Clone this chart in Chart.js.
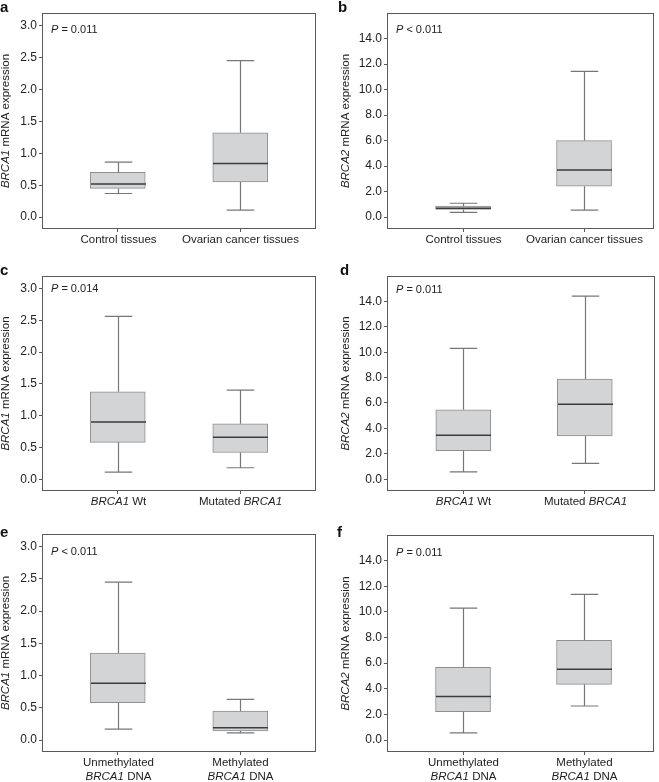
<!DOCTYPE html>
<html><head><meta charset="utf-8">
<script src="https://cdn.jsdelivr.net/npm/chart.js@4.4.1/dist/chart.umd.min.js"></script>
<style>
html,body{margin:0;padding:0;background:#fff;}
#wrap{position:relative;width:659px;height:782px;overflow:hidden;background:#fff;}
.pn{position:absolute;}
canvas{display:block;}
</style></head><body><div id="wrap"></div>
<script>
// ---------- data ----------
const panelLetters = ['a', 'b', 'c', 'd', 'e', 'f'];
const yGenes = ['BRCA1', 'BRCA2', 'BRCA1', 'BRCA2', 'BRCA1', 'BRCA2'];
const pLabels = ['*P* = 0.011', '*P* < 0.011', '*P* = 0.014', '*P* = 0.011', '*P* < 0.011', '*P* = 0.011'];
const categoriesTissue = [['Control tissues'], ['Ovarian cancer tissues']];
const categoriesMutation = [['*BRCA1* Wt'], ['Mutated *BRCA1*']];
const categoriesMethylation = [['Unmethylated', '*BRCA1* DNA'], ['Methylated', '*BRCA1* DNA']];
const panelCategories = [categoriesTissue, categoriesTissue, categoriesMutation, categoriesMutation, categoriesMethylation, categoriesMethylation];
const ticksBRCA1 = [0.0, 0.5, 1.0, 1.5, 2.0, 2.5, 3.0];
const ticksBRCA2 = [0.0, 2.0, 4.0, 6.0, 8.0, 10.0, 12.0, 14.0];
// per panel, [group 1, group 2]
const whiskerLow  = [[0.37, 0.11], [0.37, 0.55], [0.11, 0.18], [0.57, 1.25], [0.17, 0.11], [0.57, 2.66]];
const quartile1   = [[0.45, 0.55], [0.60, 2.42], [0.58, 0.42], [2.24, 3.41], [0.58, 0.14], [2.21, 4.35]];
const medians     = [[0.52, 0.84], [0.70, 3.70], [0.90, 0.66], [3.46, 5.91], [0.88, 0.19], [3.41, 5.52]];
const quartile3   = [[0.70, 1.32], [0.86, 6.00], [1.375, 0.87], [5.46, 7.88], [1.35, 0.45], [5.67, 7.79]];
const whiskerHigh = [[0.86, 2.45], [1.09, 11.42], [2.56, 1.40], [10.30, 14.42], [2.45, 0.63], [10.30, 11.37]];

// ---------- layout (page pixels) ----------
const FONT = "'Liberation Sans', Arial, Helvetica, sans-serif";
const layout = [
  {x: 0,   y: 0,   w: 330, h: 255, l: 43, t: 14, r: 315, b: 228, pY: 16, titleX: 6,  letterX: 0, letterY: 12},
  {x: 330, y: 0,   w: 329, h: 255, l: 58, t: 14, r: 323, b: 228, pY: 16, titleX: 16, letterX: 8, letterY: 12},
  {x: 0,   y: 255, w: 330, h: 255, l: 43, t: 22, r: 315, b: 235, pY: 12, titleX: 6,  letterX: 0, letterY: 20},
  {x: 330, y: 255, w: 329, h: 255, l: 58, t: 22, r: 324, b: 235, pY: 13, titleX: 16, letterX: 10, letterY: 20},
  {x: 0,   y: 510, w: 330, h: 272, l: 43, t: 25, r: 315, b: 241, pY: 17, titleX: 6,  letterX: 0, letterY: 27},
  {x: 330, y: 510, w: 329, h: 272, l: 58, t: 26, r: 323, b: 241, pY: 17, titleX: 16, letterX: 7, letterY: 27}
];

function segs(str) {
  return str.split('*').map((t, j) => ({t: t, it: j % 2 === 1})).filter(s => s.t.length);
}
function drawRich(ctx, str, x, y, align, size, color) {
  const parts = segs(str);
  const f = it => (it ? 'italic ' : '') + size + 'px ' + FONT;
  let total = 0;
  parts.forEach(s => { ctx.font = f(s.it); s.w = ctx.measureText(s.t).width; total += s.w; });
  let cx = align === 'center' ? x - total / 2 : x;
  ctx.textAlign = 'left';
  ctx.textBaseline = 'middle';
  ctx.fillStyle = color;
  parts.forEach(s => { ctx.font = f(s.it); ctx.fillText(s.t, cx, y); cx += s.w; });
}

function boxPlugin(i) {
  const L = layout[i];
  return {
    id: 'box' + i,
    afterDatasetsDraw(chart) {
      const ctx = chart.ctx, xs = chart.scales.x, ys = chart.scales.y, a = chart.chartArea;
      const meta = chart.getDatasetMeta(0);
      ctx.save();
      for (let k = 0; k < 2; k++) {
        const xc = Math.round(xs.getPixelForValue(k)) + 0.5;
        const bw = meta.data[k].width;
        const cap = bw / 2;
        ctx.strokeStyle = '#777';
        ctx.lineWidth = 1.2;
        ctx.beginPath();
        ctx.moveTo(xc, ys.getPixelForValue(quartile3[i][k]));
        ctx.lineTo(xc, ys.getPixelForValue(whiskerHigh[i][k]));
        ctx.moveTo(xc, ys.getPixelForValue(quartile1[i][k]));
        ctx.lineTo(xc, ys.getPixelForValue(whiskerLow[i][k]));
        ctx.moveTo(xc - cap / 2, ys.getPixelForValue(whiskerHigh[i][k]));
        ctx.lineTo(xc + cap / 2, ys.getPixelForValue(whiskerHigh[i][k]));
        ctx.moveTo(xc - cap / 2, ys.getPixelForValue(whiskerLow[i][k]));
        ctx.lineTo(xc + cap / 2, ys.getPixelForValue(whiskerLow[i][k]));
        ctx.stroke();
        ctx.strokeStyle = '#3c3c3c';
        ctx.lineWidth = 1.5;
        ctx.beginPath();
        const my = ys.getPixelForValue(medians[i][k]);
        ctx.moveTo(xc - bw / 2, my);
        ctx.lineTo(xc + bw / 2, my);
        ctx.stroke();
        // category labels
        const lines = panelCategories[i][k];
        lines.forEach((ln, j) => drawRich(ctx, ln, xc, a.bottom + 12 + j * 14, 'center', 11.5, '#222'));
      }
      // frame
      ctx.strokeStyle = '#5a5a5a';
      ctx.lineWidth = 1;
      ctx.strokeRect(Math.round(a.left) - 0.5, Math.round(a.top) - 0.5, Math.round(a.right - a.left) + 1, Math.round(a.bottom - a.top) + 1);
      // P value
      drawRich(ctx, pLabels[i], a.left + 8, a.top + L.pY, 'left', 11, '#222');
      // y title
      ctx.save();
      ctx.translate(L.titleX, (a.top + a.bottom) / 2);
      ctx.rotate(-Math.PI / 2);
      drawRich(ctx, '*' + yGenes[i] + '* mRNA expression', 0, 0, 'center', 11.5, '#222');
      ctx.restore();
      // panel letter
      ctx.font = 'bold 15px ' + FONT;
      ctx.fillStyle = '#111';
      ctx.textAlign = 'left';
      ctx.textBaseline = 'alphabetic';
      ctx.fillText(panelLetters[i], L.letterX, L.letterY);
      ctx.restore();
    }
  };
}

function makePanel(i) {
  const L = layout[i];
  const isB1 = yGenes[i] === 'BRCA1';
  const tickVals = isB1 ? ticksBRCA1 : ticksBRCA2;
  const left = i % 2 === 0;
  const div = document.createElement('div');
  div.className = 'pn';
  div.style.left = L.x + 'px'; div.style.top = L.y + 'px';
  div.style.width = L.w + 'px'; div.style.height = L.h + 'px';
  const cv = document.createElement('canvas');
  cv.width = L.w; cv.height = L.h;
  cv.style.width = L.w + 'px'; cv.style.height = L.h + 'px';
  div.appendChild(cv);
  document.getElementById('wrap').appendChild(div);
  new Chart(cv, {
    type: 'bar',
    data: {
      datasets: [{
        data: [0, 1].map(k => ({x: k, y: [quartile1[i][k], quartile3[i][k]]})),
        backgroundColor: '#d3d4d6',
        borderColor: '#8e8e8e',
        borderWidth: 1,
        borderSkipped: false,
        barThickness: 55
      }]
    },
    options: {
      responsive: false,
      animation: false,
      events: [],
      devicePixelRatio: 1,
      layout: {padding: {left: 0, top: L.t, right: L.w - L.r, bottom: 0}},
      plugins: {legend: {display: false}, tooltip: {enabled: false}},
      scales: {
        x: {
          type: 'linear',
          offset: false,
          min: left ? -0.61 : -0.62,
          max: left ? 1.61 : 1.57,
          afterBuildTicks: s => { s.ticks = [{value: 0}, {value: 1}]; },
          afterFit: s => { s.height = L.h - L.b; },
          grid: {offset: false, drawOnChartArea: false, drawTicks: true, tickLength: 4, color: '#5a5a5a'},
          border: {display: false},
          ticks: {display: false}
        },
        y: {
          min: isB1 ? -0.17 : -0.85,
          max: isB1 ? 3.18 : 15.92,
          afterBuildTicks: s => { s.ticks = tickVals.map(v => ({value: v})); },
          afterFit: s => { s.width = L.l; },
          grid: {drawOnChartArea: false, drawTicks: true, tickLength: 4, color: '#5a5a5a'},
          border: {display: false},
          ticks: {padding: 2, color: '#222', font: {family: FONT, size: 12}, callback: v => Number(v).toFixed(1)}
        }
      }
    },
    plugins: [boxPlugin(i)]
  });
}
for (let i = 0; i < 6; i++) makePanel(i);
</script></body></html>
